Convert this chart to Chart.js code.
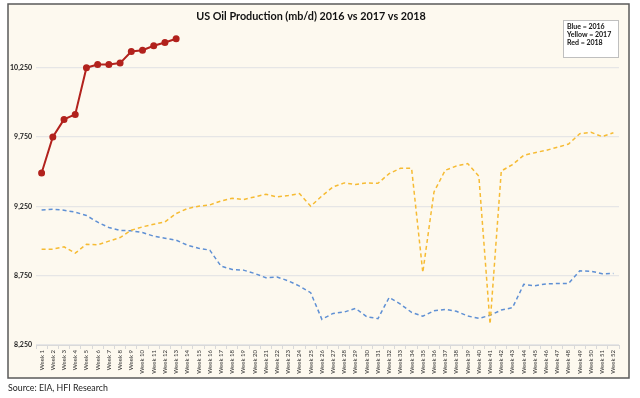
<!DOCTYPE html>
<html>
<head>
<meta charset="utf-8">
<script src="https://cdn.jsdelivr.net/npm/chart.js@4"></script>
<style>
  html, body { margin: 0; padding: 0; background: #ffffff; }
  #wrap { width: 640px; height: 398px; position: relative; }
</style>
</head>
<body>
<div id="wrap"><canvas id="myChart" width="640" height="398"></canvas></div>
<script>
// week labels
const weeks = [];
for (let i = 1; i <= 52; i++) weeks.push('Week ' + i);

// values (thousand barrels per day)
const prod2016 = [9224, 9229, 9222, 9208, 9184, 9136, 9097, 9076, 9074, 9061,
  9035, 9020, 9006, 8970, 8948, 8934, 8819, 8795, 8790, 8766,
  8735, 8740, 8713, 8675, 8627, 8435, 8478, 8488, 8514, 8454,
  8440, 8593, 8545, 8485, 8457, 8497, 8507, 8493, 8459, 8442,
  8464, 8502, 8519, 8687, 8677, 8691, 8693, 8694, 8785, 8782,
  8764, 8766];
const prod2017 = [8941, 8941, 8958, 8912, 8977, 8972, 8999, 9025, 9078, 9102,
  9121, 9138, 9198, 9234, 9251, 9260, 9289, 9308, 9299, 9318,
  9337, 9318, 9328, 9342, 9251, 9325, 9390, 9419, 9407, 9419,
  9416, 9486, 9524, 9524, 8773, 9354, 9510, 9541, 9558, 9467,
  8401, 9505, 9551, 9618, 9637, 9654, 9676, 9699, 9774, 9784,
  9753, 9781];
const prod2018 = [9490, 9750, 9877, 9913, 10250, 10273, 10273, 10283, 10367, 10376,
  10408, 10432, 10458];

// y ticks shown
const yTicks = [8250, 8750, 9250, 9750, 10250];

const titleText = 'US Oil Production (mb/d) 2016 vs 2017 vs 2018';
const keyLines = ['Blue = 2016', 'Yellow = 2017', 'Red = 2018'];
const sourceText = 'Source: EIA, HFI Research';

// frame, title, key box and source note
const decor = {
  id: 'decor',
  beforeDraw(chart) {
    const ctx = chart.ctx;
    ctx.save();
    ctx.fillStyle = '#ffffff';
    ctx.fillRect(0, 0, 640, 398);
    ctx.fillStyle = '#fdf9ef';
    ctx.fillRect(8, 4, 621, 374);
    ctx.strokeStyle = '#5a5a5a';
    ctx.lineWidth = 1.5;
    ctx.strokeRect(8, 4, 621, 374);
    ctx.restore();
  },
  afterDraw(chart) {
    const ctx = chart.ctx;
    ctx.save();
    ctx.fillStyle = '#111111';
    ctx.font = 'bold 10.8px Lato';
    ctx.textAlign = 'center';
    ctx.textBaseline = 'middle';
    ctx.fillText(titleText, 311, 17);

    // key box
    ctx.fillStyle = '#ffffff';
    ctx.fillRect(563, 20, 55, 37);
    ctx.strokeStyle = '#bfbfbf';
    ctx.lineWidth = 1;
    ctx.strokeRect(563.5, 20.5, 55, 37);
    ctx.fillStyle = '#111111';
    ctx.font = 'bold 7px Lato';
    ctx.textAlign = 'left';
    keyLines.forEach((t, i) => ctx.fillText(t, 567, 27 + i * 7.7));

    ctx.font = '8.8px Lato';
    ctx.fillStyle = '#222222';
    ctx.fillText(sourceText, 8, 388);
    ctx.restore();
  }
};

const data = {
  labels: weeks,
  datasets: [
    {
      label: '2018',
      data: prod2018,
      borderColor: '#b2221d',
      backgroundColor: '#b2221d',
      borderWidth: 2,
      pointRadius: 2.5,
      pointHoverRadius: 2.5,
      tension: 0,
      order: 0
    },
    {
      label: '2017',
      data: prod2017,
      borderColor: '#f6bb33',
      borderWidth: 1.5,
      borderDash: [4, 3],
      pointRadius: 0,
      tension: 0,
      order: 1
    },
    {
      label: '2016',
      data: prod2016,
      borderColor: '#5f90d4',
      borderWidth: 1.5,
      borderDash: [4, 3],
      pointRadius: 0,
      tension: 0,
      order: 2
    }
  ]
};

const config = {
  type: 'line',
  data: data,
  options: {
    responsive: false,
    animation: false,
    layout: { padding: { left: 8, top: 33, right: 21, bottom: 20 } },
    plugins: {
      legend: { display: false },
      title: { display: false },
      tooltip: { enabled: false }
    },
    scales: {
      x: {
        offset: true,
        grid: {
          offset: true,
          drawOnChartArea: false,
          drawTicks: true,
          tickLength: 4,
          color: '#d9d9d9'
        },
        border: { display: true, color: '#d9d9d9' },
        ticks: {
          autoSkip: false,
          minRotation: 90,
          maxRotation: 90,
          padding: 1,
          color: '#333333',
          font: { family: 'Lato', size: 6 }
        },
        afterFit(scale) { scale.height = 33; }
      },
      y: {
        min: 8250,
        max: 10500,
        afterBuildTicks(scale) {
          scale.ticks = yTicks.map(v => ({ value: v }));
        },
        grid: { color: '#e6e6e6', lineWidth: 1.2, drawTicks: false },
        border: { display: false },
        ticks: {
          padding: 4,
          color: '#222222',
          font: { family: 'Lato', size: 7, weight: 'bold' },
          callback: v => v.toLocaleString('en-US')
        },
        afterFit(scale) { scale.width = 28; }
      }
    }
  },
  plugins: [decor]
};

const myChart = new Chart(document.getElementById('myChart'), config);
</script>
</body>
</html>
